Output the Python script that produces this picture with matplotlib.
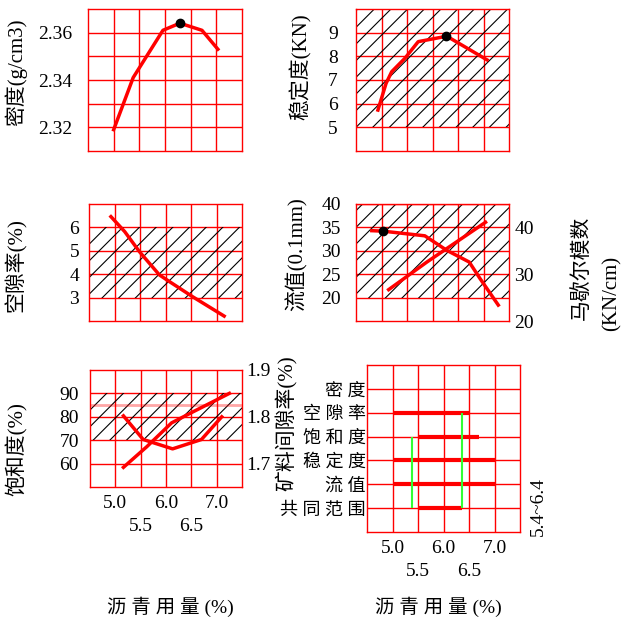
import matplotlib
matplotlib.use("Agg")
import matplotlib.pyplot as plt

plt.rcParams['font.family'] = ['Liberation Serif', 'Noto Sans CJK SC']
plt.rcParams['hatch.linewidth'] = 0.8
plt.rcParams['hatch.color'] = 'black'

W, H = 621, 618

# asphalt content (x) and the measured curves
density_x = [5.0, 5.38, 5.96, 6.29, 6.72, 7.03]
density_y = [2.319, 2.341, 2.361, 2.364, 2.361, 2.353]
density_peak = [6.29, 2.364]

stab_x = [4.93, 5.09, 5.20, 5.46, 5.72, 6.28, 7.07]
stab_y = [5.73, 6.86, 7.35, 7.92, 8.62, 8.85, 7.85]
stab_peak = [6.27, 8.87]

void_x = [4.93, 5.20, 5.49, 5.88, 6.08, 6.53, 7.15]
void_y = [6.46, 5.82, 4.96, 3.97, 3.68, 3.04, 2.21]

flow_x = [4.81, 5.03, 5.85, 6.28, 6.72, 6.93, 7.29]
flow_y = [34.3, 34.2, 33.2, 30.1, 27.6, 24.1, 18.4]
flow_mark = [5.03, 34.2]

modulus_x = [5.14, 5.89, 7.04]
modulus_y = [26.7, 32.6, 41.1]

sat_x = [5.16, 5.55, 6.13, 6.70, 7.10]
sat_y = [80.4, 70.3, 66.3, 70.3, 80.0]

vma_x = [5.16, 5.62, 6.11, 6.54, 7.25]
vma_y = [1.692, 1.736, 1.787, 1.811, 1.850]

range_names = ['密 度', '空 隙 率', '饱 和 度', '稳 定 度', '流 值', '共 同 范 围']
range_lo = [None, 5.0, 5.5, 5.0, 5.0, 5.5]
range_hi = [None, 6.5, 6.70, 7.0, 7.0, 6.36]
common_lo, common_hi = 5.38, 6.36

x_major = [5.0, 6.0, 7.0]
x_minor = [5.5, 6.5]

fig = plt.figure(figsize=(W / 100, H / 100), dpi=100)


def box(x0, y0, x1, y1):
    return fig.add_axes([x0 / W, 1 - y1 / H, (x1 - x0) / W, (y1 - y0) / H])


def style(ax, ylim, yt, ymin, labels=False, fmt='{:g}', ypad=8):
    ax.set_xlim(4.5, 7.5)
    ax.set_ylim(*ylim)
    ax.set_xticks(x_major)
    ax.set_xticks(x_minor, minor=True)
    ax.set_yticks(yt)
    ax.set_yticklabels([fmt.format(v) for v in yt])
    ax.set_yticks(ymin, minor=True)
    ax.grid(which='both', color='red', lw=1.0)
    ax.set_axisbelow(True)
    for s in ax.spines.values():
        s.set_color('red')
        s.set_linewidth(1.0)
    ax.tick_params(which='both', length=0, labelsize=14)
    ax.tick_params(axis='y', pad=ypad)
    if labels:
        ax.set_xticklabels(['{:.1f}'.format(v) for v in x_major])
        ax.set_xticklabels(['{:.1f}'.format(v) for v in x_minor], minor=True)
        ax.tick_params(axis='x', which='major', pad=6)
        ax.tick_params(axis='x', which='minor', pad=22)
    else:
        ax.set_xticklabels([])
        ax.set_xticklabels([], minor=True)


def hatch(ax, lo, hi):
    ax.axhspan(lo, hi, facecolor='none', edgecolor='black', hatch='//', lw=0, zorder=1)


def ylab(x, y, s, size=15):
    fig.text(x / W, 1 - y / H, s, rotation=90, ha='center', va='center', fontsize=size)


# density
ax1 = box(88, 9, 242, 151)
style(ax1, (2.31, 2.37), [2.32, 2.34, 2.36], [2.33, 2.35], fmt='{:.2f}', ypad=11)
ax1.plot(density_x, density_y, color='red', lw=2.5, zorder=3)
ax1.plot(*density_peak, 'o', color='black', ms=6, zorder=4)
ylab(16, 72, '密度(g/cm3)')

# stability
ax2 = box(356, 9, 509, 151)
style(ax2, (4, 10), [5, 6, 7, 8, 9], [], ypad=13)
hatch(ax2, 5, 10)
ax2.plot(stab_x, stab_y, color='red', lw=2.5, zorder=3)
ax2.plot(*stab_peak, 'o', color='black', ms=6, zorder=4)
ylab(301, 67, '稳定度(KN)')

# voids
ax3 = box(89, 204, 242, 321)
style(ax3, (2, 7), [3, 4, 5, 6], [], ypad=7)
hatch(ax3, 3, 6)
ax3.plot(void_x, void_y, color='red', lw=2.5, zorder=3)
ylab(16, 265, '空隙率(%)')

# flow + marshall modulus
ax4 = box(356, 204, 509, 321)
style(ax4, (15, 40), [20, 25, 30, 35, 40], [], ypad=11)
hatch(ax4, 20, 40)
ax4.plot(flow_x, flow_y, color='red', lw=2.5, zorder=3)
ax4.plot(*flow_mark, 'o', color='black', ms=6, zorder=4)
ax4r = ax4.twinx()
ax4r.set_ylim(20, 45)
ax4r.set_yticks([20, 30, 40])
ax4r.tick_params(length=0, labelsize=14, pad=4)
for s in ax4r.spines.values():
    s.set_visible(False)
ax4r.plot(modulus_x, modulus_y, color='red', lw=2.5, zorder=3)
ylab(297, 254, '流值(0.1mm)')
ylab(583, 268, '马歇尔模数')
ylab(612, 293, '(KN/cm)')

# saturation + VMA
ax5 = box(90, 370, 242, 487)
style(ax5, (50, 100), [60, 70, 80, 90], [], labels=True, ypad=8)
hatch(ax5, 70, 90)
ax5.axhline(85, color='red', lw=2, alpha=0.35, zorder=2)
ax5.plot(sat_x, sat_y, color='red', lw=2.5, zorder=3)
ax5r = ax5.twinx()
ax5r.set_ylim(1.65, 1.9)
ax5r.set_yticks([1.7, 1.8, 1.9])
ax5r.set_yticklabels(['1.7', '1.8', '1.9'])
ax5r.tick_params(length=0, labelsize=14, pad=3)
for s in ax5r.spines.values():
    s.set_visible(False)
ax5r.plot(vma_x, vma_y, color='red', lw=2.5, zorder=3)
ylab(17, 449, '饱和度(%)')
ylab(287, 423, '矿料间隙率(%)')

# ranges
ax6 = box(367, 365, 520, 532)
rows = list(range(len(range_names), 0, -1))
style(ax6, (0, 7), rows, [], labels=True, ypad=1)
ax6.set_yticklabels(range_names, fontsize=13)
for r, lo, hi in zip(rows, range_lo, range_hi):
    if lo is not None:
        ax6.hlines(r, lo, hi, color='red', lw=3, zorder=3)
ax6.vlines(common_lo, 1, 4, color='#33ff33', lw=1.5, zorder=4)
ax6.vlines(common_hi, 1, 5, color='#33ff33', lw=1.5, zorder=4)
fig.text(538 / W, 1 - 507 / H, '5.4~6.4', rotation=90, ha='center', va='center', fontsize=14)

fig.text(170 / W, 1 - 607 / H, '沥 青 用 量 (%)', ha='center', va='center', fontsize=14)
fig.text(438 / W, 1 - 607 / H, '沥 青 用 量 (%)', ha='center', va='center', fontsize=14)

fig.savefig('out.png', dpi=100)
